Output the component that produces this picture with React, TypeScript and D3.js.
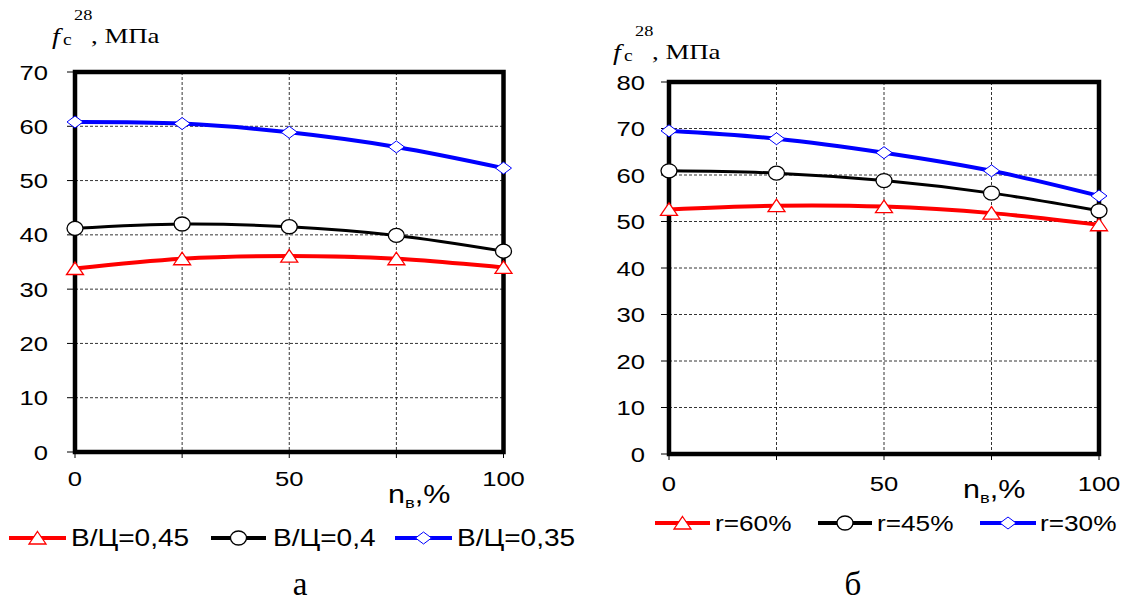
import React from "react";
import * as d3 from "d3";

const xValues = [0, 25, 50, 75, 100];
const xTickLabels = [0, 50, 100];

// Chart а
const seriesA_names = ["В/Ц=0,45", "В/Ц=0,4", "В/Ц=0,35"];
const seriesA_red = [33.8, 35.6, 36.1, 35.6, 34.0];
const seriesA_black = [41.2, 42.0, 41.5, 39.9, 37.0];
const seriesA_blue = [60.8, 60.5, 58.9, 56.2, 52.3];
const yTicksA = [0, 10, 20, 30, 40, 50, 60, 70];

// Chart б
const seriesB_names = ["r=60%", "r=45%", "r=30%"];
const seriesB_red = [52.6, 53.4, 53.2, 51.8, 49.3];
const seriesB_black = [60.9, 60.4, 58.8, 56.1, 52.3];
const seriesB_blue = [69.5, 67.8, 64.8, 60.9, 55.5];
const yTicksB = [0, 10, 20, 30, 40, 50, 60, 70, 80];

const COLORS = { red: "#ff0000", black: "#000000", blue: "#0000ff" };
const SANS = "'Liberation Sans', Arial, sans-serif";
const SERIF = "'Liberation Serif', 'Times New Roman', serif";
const K = 1.22; // horizontal stretch of the text in the reference

type Marker = "triangle" | "circle" | "diamond";

function ST(props: {
  x: number;
  y: number;
  anchor?: "start" | "middle" | "end";
  size: number;
  family?: string;
  k?: number;
  dy?: string;
  italic?: boolean;
  children: React.ReactNode;
}) {
  const k = props.k ?? K;
  return (
    <text
      transform={`translate(${props.x},${props.y}) scale(${k},1)`}
      textAnchor={props.anchor ?? "start"}
      fontFamily={props.family ?? SANS}
      fontSize={props.size}
      fontStyle={props.italic ? "italic" : "normal"}
      dy={props.dy}
      fill="#000"
    >
      {props.children}
    </text>
  );
}

function MarkerShape({ type, x, y }: { type: Marker; x: number; y: number }) {
  if (type === "triangle") {
    return (
      <path
        d={`M${x},${y - 6.5} L${x + 8.5},${y + 6} L${x - 8.5},${y + 6} Z`}
        fill="#fff"
        stroke={COLORS.red}
        strokeWidth={1.3}
      />
    );
  }
  if (type === "circle") {
    return <ellipse cx={x} cy={y} rx={8} ry={7} fill="#fff" stroke="#000" strokeWidth={1.3} />;
  }
  return (
    <path
      d={`M${x},${y - 6} L${x + 8},${y} L${x},${y + 6} L${x - 8},${y} Z`}
      fill="#fff"
      stroke={COLORS.blue}
      strokeWidth={1}
    />
  );
}

interface PanelProps {
  x0: number;
  x1: number;
  yTop: number;
  yBot: number;
  yMax: number;
  yTicks: number[];
  series: { values: number[]; color: string; marker: Marker; width: number; name: string }[];
  yLabelX: number;
  titleX: number;
  titleY: number;
  xLabelX: number;
  xLabelY: number;
  xTickY: number;
  legendY: number;
  legendSize: number;
  legendItems: { lineX0: number; lineX1: number; textX: number }[];
  caption: string;
  captionX: number;
}

function Panel(p: PanelProps) {
  const x = d3.scaleLinear().domain([0, 100]).range([p.x0, p.x1]);
  const y = d3.scaleLinear().domain([0, p.yMax]).range([p.yBot, p.yTop]);
  const line = d3
    .line<number>()
    .x((_, i) => x(xValues[i]))
    .y((d) => y(d))
    .curve(d3.curveCatmullRom.alpha(0.5));

  return (
    <g>
      {/* grid */}
      {p.yTicks
        .filter((t) => t > 0 && t < p.yMax)
        .map((t) => (
          <line key={"gy" + t} x1={p.x0} x2={p.x1} y1={y(t)} y2={y(t)} stroke="#000" strokeWidth={0.8} strokeDasharray="3,2" />
        ))}
      {xValues
        .filter((v) => v > 0 && v < 100)
        .map((v) => (
          <line key={"gx" + v} x1={x(v)} x2={x(v)} y1={p.yTop} y2={p.yBot} stroke="#000" strokeWidth={0.8} strokeDasharray="3,2" />
        ))}
      {/* ticks */}
      {p.yTicks.map((t) => (
        <line key={"ty" + t} x1={p.x0 - 8} x2={p.x0} y1={y(t)} y2={y(t)} stroke="#000" strokeWidth={1} />
      ))}
      {xValues.map((v) => (
        <line key={"tx" + v} x1={x(v)} x2={x(v)} y1={p.yBot} y2={p.yBot + 6} stroke="#000" strokeWidth={1} />
      ))}
      {/* frame */}
      <rect x={p.x0} y={p.yTop} width={p.x1 - p.x0} height={p.yBot - p.yTop} fill="none" stroke="#000" strokeWidth={4.5} />
      {/* y tick labels */}
      {p.yTicks.map((t) => (
        <ST key={"ly" + t} x={p.yLabelX} y={y(t)} dy="0.36em" anchor="end" size={21}>
          {t}
        </ST>
      ))}
      {xTickLabels.map((v) => (
        <ST key={"lx" + v} x={x(v)} y={p.xTickY} dy="0.36em" anchor="middle" size={21}>
          {v}
        </ST>
      ))}
      {/* x axis label */}
      <ST x={p.xLabelX} y={p.xLabelY} size={25}>
        n
        <tspan fontSize={15} dy={5}>в</tspan>
        <tspan dy={-5}>,%</tspan>
      </ST>
      {/* y axis title */}
      <ST x={p.titleX} y={p.titleY + 1} size={23} family={SERIF} italic>
        f
      </ST>
      <ST x={p.titleX + 11} y={p.titleY + 2} size={16} family={SERIF}>
        c
      </ST>
      <ST x={p.titleX + 22} y={p.titleY - 23} size={15} family={SERIF}>
        28
      </ST>
      <ST x={p.titleX + 39} y={p.titleY} size={22} family={SERIF}>
        , МПа
      </ST>
      {/* series */}
      {p.series.map((s, si) => (
        <g key={"s" + si}>
          <path d={line(s.values) || ""} fill="none" stroke={s.color} strokeWidth={s.width} />
          {s.values.map((v, i) => (
            <MarkerShape key={i} type={s.marker} x={x(xValues[i])} y={y(v)} />
          ))}
        </g>
      ))}
      {/* legend */}
      {p.series.map((s, si) => {
        const it = p.legendItems[si];
        const cx = (it.lineX0 + it.lineX1) / 2;
        return (
          <g key={"lg" + si}>
            <line x1={it.lineX0} x2={it.lineX1} y1={p.legendY} y2={p.legendY} stroke={s.color} strokeWidth={4} />
            <MarkerShape type={s.marker} x={cx} y={p.legendY} />
            <ST x={it.textX} y={p.legendY} dy="0.36em" size={p.legendSize}>
              {s.name}
            </ST>
          </g>
        );
      })}
      <ST x={p.captionX} y={595} anchor="middle" family={SERIF} size={33} k={1}>
        {p.caption}
      </ST>
    </g>
  );
}

export default function App() {
  return (
    <svg
      width={1126}
      height={601}
      style={{ position: "absolute", left: 0, top: 0, background: "#fff" }}
    >
      <rect x={0} y={0} width={1126} height={601} fill="#fff" />
      <Panel
        x0={75}
        x1={503.5}
        yTop={72}
        yBot={452}
        yMax={70}
        yTicks={yTicksA}
        series={[
          { values: seriesA_red, color: COLORS.red, marker: "triangle", width: 4, name: seriesA_names[0] },
          { values: seriesA_black, color: COLORS.black, marker: "circle", width: 3, name: seriesA_names[1] },
          { values: seriesA_blue, color: COLORS.blue, marker: "diamond", width: 4, name: seriesA_names[2] },
        ]}
        yLabelX={48}
        titleX={52}
        titleY={43}
        xLabelX={388}
        xLabelY={503}
        xTickY={478}
        legendY={538}
        legendSize={23}
        legendItems={[
          { lineX0: 9, lineX1: 66, textX: 71 },
          { lineX0: 211, lineX1: 266, textX: 273 },
          { lineX0: 395, lineX1: 452, textX: 457 },
        ]}
        caption="а"
        captionX={300}
      />
      <Panel
        x0={669}
        x1={1099}
        yTop={82}
        yBot={454}
        yMax={80}
        yTicks={yTicksB}
        series={[
          { values: seriesB_red, color: COLORS.red, marker: "triangle", width: 4, name: seriesB_names[0] },
          { values: seriesB_black, color: COLORS.black, marker: "circle", width: 3, name: seriesB_names[1] },
          { values: seriesB_blue, color: COLORS.blue, marker: "diamond", width: 4, name: seriesB_names[2] },
        ]}
        yLabelX={645}
        titleX={613}
        titleY={59}
        xLabelX={963}
        xLabelY={498}
        xTickY={483}
        legendY={523}
        legendSize={21.5}
        legendItems={[
          { lineX0: 655, lineX1: 710, textX: 715 },
          { lineX0: 818, lineX1: 872, textX: 877 },
          { lineX0: 980, lineX1: 1036, textX: 1040 },
        ]}
        caption="б"
        captionX={853}
      />
    </svg>
  );
}
